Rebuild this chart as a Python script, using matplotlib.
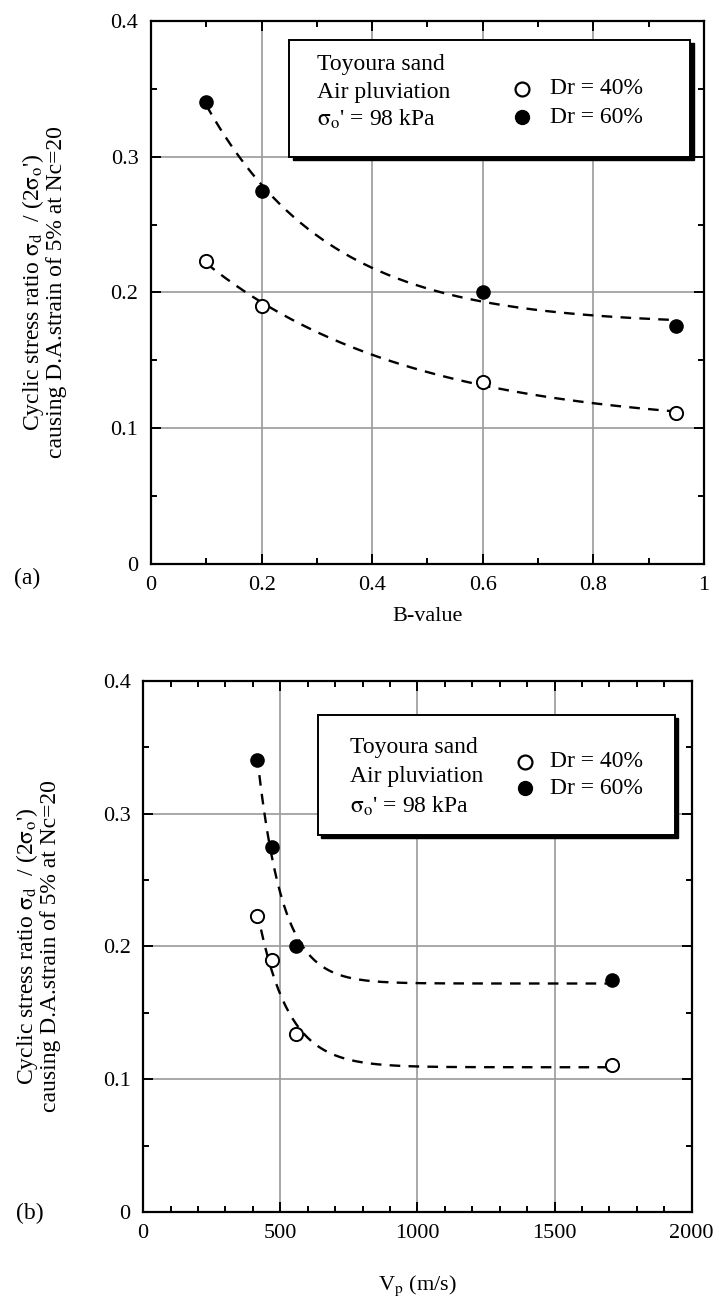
import numpy as np
import matplotlib.pyplot as plt
from matplotlib.patches import Rectangle
from matplotlib.transforms import offset_copy
from matplotlib.ticker import MultipleLocator, FuncFormatter

plt.rcParams['font.family'] = ['Liberation Serif', 'DejaVu Serif']
plt.rcParams['mathtext.fontset'] = 'stix'
plt.rcParams['font.size'] = 16

# cyclic stress ratio at Nc=20 for the two densities
b_value = [0.1, 0.2, 0.6, 0.95]
vp = [416, 471, 556, 1708]          # m/s
csr_dr40 = [0.223, 0.190, 0.134, 0.111]
csr_dr60 = [0.340, 0.275, 0.200, 0.175]

ylabel_txt = ("Cyclic stress ratio $\\mathrm{\\sigma_d}$  / (2$\\mathrm{\\sigma_o}$')\n"
              "causing D.A.strain of 5% at Nc=20")
note_lines = ["Toyoura sand", "Air pluviation", "$\\mathrm{\\sigma_o}$' = 98 kPa"]
series_labels = ["Dr = 40%", "Dr = 60%"]


def exp_fit(x, y, n=200):
    # y = a + b*exp(-k*x), k by grid search, a and b by least squares
    x = np.asarray(x, float)
    y = np.asarray(y, float)
    span = x.max() - x.min()
    best = None
    for k in np.linspace(0.2, 40, 2000) / span:
        A = np.column_stack([np.ones_like(x), np.exp(-k * x)])
        coef, *_ = np.linalg.lstsq(A, y, rcond=None)
        err = np.sum((A @ coef - y) ** 2)
        if best is None or err < best[0]:
            best = (err, k, coef)
    _, k, (a, b) = best
    xs = np.linspace(x.min(), x.max(), n)
    return xs, a + b * np.exp(-k * xs)


def style_axes(ax, xmax, xmajor, xminor):
    ax.set_xlim(0, xmax)
    ax.set_ylim(0, 0.4)
    ax.xaxis.set_major_locator(MultipleLocator(xmajor))
    ax.xaxis.set_minor_locator(MultipleLocator(xminor))
    ax.yaxis.set_major_locator(MultipleLocator(0.1))
    ax.yaxis.set_minor_locator(MultipleLocator(0.05))
    fmt = FuncFormatter(lambda v, p: f"{v:g}")
    ax.xaxis.set_major_formatter(fmt)
    ax.yaxis.set_major_formatter(fmt)
    ax.tick_params(which='both', direction='in', top=True, right=True, width=1.4)
    ax.tick_params(which='major', length=7, pad=9, labelsize=16)
    ax.tick_params(which='minor', length=4)
    for s in ax.spines.values():
        s.set_linewidth(1.6)
    ax.grid(True, which='major', color='#9a9a9a', lw=1.2)
    ax.set_axisbelow(True)


def note_box(ax, x0, y0, x1, y1):
    shadow_tr = offset_copy(ax.transData, fig=ax.figure, x=2.5, y=-2.5, units='points')
    ax.add_patch(Rectangle((x0, y0), x1 - x0, y1 - y0, transform=shadow_tr,
                           facecolor='black', edgecolor='black', zorder=4))
    ax.add_patch(Rectangle((x0, y0), x1 - x0, y1 - y0, facecolor='white',
                           edgecolor='black', lw=1.4, zorder=5))


def draw_panel(ax, x, xmax, xmajor, xminor, box, tx, ty, mx, my, dx):
    style_axes(ax, xmax, xmajor, xminor)
    for y in (csr_dr40, csr_dr60):
        xs, ys = exp_fit(x, y)
        ax.plot(xs, ys, color='black', lw=1.7, ls=(0, (4.5, 3.5)), zorder=3)
    ax.plot(x, csr_dr40, 'o', ms=9.5, mfc='white', mec='black', mew=1.4, zorder=6)
    ax.plot(x, csr_dr60, 'o', ms=9.5, mfc='black', mec='black', zorder=6)
    note_box(ax, *box)
    for t, yy in zip(note_lines, ty):
        ax.text(tx, yy, t, ha='left', va='center', fontsize=17, zorder=7)
    ax.plot(mx, my[0], 'o', ms=10, mfc='white', mec='black', mew=1.6, zorder=7)
    ax.plot(mx, my[1], 'o', ms=10, mfc='black', mec='black', zorder=7)
    for t, yy in zip(series_labels, my):
        ax.text(dx, yy, t, ha='left', va='center', fontsize=17, zorder=7)
    ax.set_ylabel(ylabel_txt, fontsize=17, linespacing=1.0, va='center', ha='center')


fig = plt.figure(figsize=(7.19, 13.04), dpi=100)
ax1 = fig.add_axes([0.210, 0.5675, 0.769, 0.4165])
ax2 = fig.add_axes([0.199, 0.0706, 0.763, 0.4074])

draw_panel(ax1, b_value, 1, 0.2, 0.1,
           box=(0.250, 0.300, 0.975, 0.386),
           tx=0.300, ty=[0.3676, 0.347, 0.3275],
           mx=0.671, my=[0.350, 0.329], dx=0.7215)
ax1.set_xlabel("B-value", labelpad=8)
ax1.yaxis.set_label_coords(-0.195, 0.5)

draw_panel(ax2, vp, 2000, 500, 100,
           box=(637, 0.284, 1938, 0.3744),
           tx=754, ty=[0.350, 0.3277, 0.3056],
           mx=1392, my=[0.339, 0.319], dx=1483)
ax2.set_xlabel("V$_\\mathrm{p}$ (m/s)", labelpad=22)
ax2.yaxis.set_label_coords(-0.192, 0.5)

fig.text(14 / 719, 1 - 578 / 1304, "(a)", ha='left', va='center', fontsize=17)
fig.text(16 / 719, 1 - 1213 / 1304, "(b)", ha='left', va='center', fontsize=17)

fig.savefig("out.png", dpi=100)
